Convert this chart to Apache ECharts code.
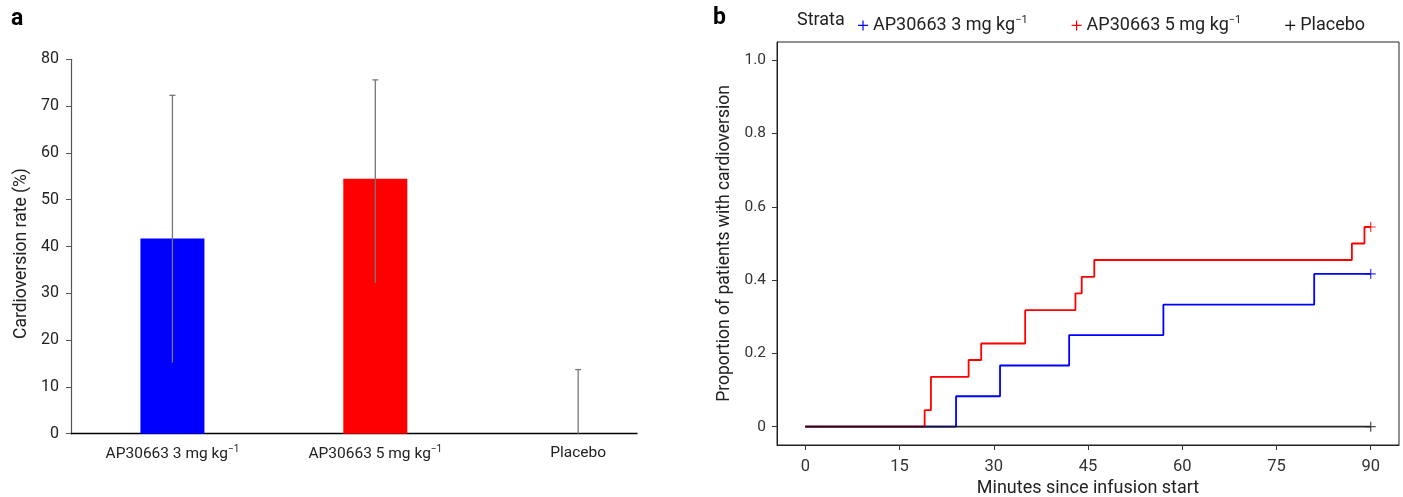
<!DOCTYPE html>
<html>
<head>
<meta charset="utf-8">
<script src="https://cdn.jsdelivr.net/npm/echarts@6/dist/echarts.min.js"></script>
<style>
html,body{margin:0;padding:0;background:#fff;}
#chart{width:1403px;height:497px;}
</style>
</head>
<body>
<div id="chart"></div>
<script>
// ---- Panel a data ----
const barCategories = ['AP30663 3 mg kg^-1', 'AP30663 5 mg kg^-1', 'Placebo'];
const barPositions = [1, 2, 3];
const rateValues = [41.7, 54.5, 0];
const ciLower = [15.2, 32.2, 0];
const ciUpper = [72.3, 75.6, 13.7];
const barColors = ['#0000ff', '#ff0000', '#000000'];

// ---- Panel b data ----
const strataNames = ['AP30663 3 mg kg^-1', 'AP30663 5 mg kg^-1', 'Placebo'];
const km3Times = [0, 24, 31, 42, 57, 81, 90];
const km3Prop  = [0, 0.083, 0.167, 0.25, 0.333, 0.417, 0.417];
const km5Times = [0, 19, 20, 26, 28, 35, 43, 44, 46, 87, 89, 90];
const km5Prop  = [0, 0.045, 0.136, 0.182, 0.227, 0.318, 0.364, 0.409, 0.455, 0.5, 0.545, 0.545];
const kmPTimes = [0, 90];
const kmPProp  = [0, 0];
const censorTimes = [90, 90, 90];
const censorProp = [0.417, 0.545, 0];
const minuteTicks = [0, 15, 30, 45, 60, 75, 90];
const propTicks = [0, 0.2, 0.4, 0.6, 0.8, 1];

const FONT = 'Roboto, "Noto Sans", sans-serif';
const PLUS = 'path://M4.4,0h1.2v10h-1.2zM0,4.4h10v1.2h-10z';

function supFmt(s) {
  const i = s.indexOf('^');
  if (i < 0) return '{t|' + s + '}';
  return '{t|' + s.slice(0, i) + '}{s|' + s.slice(i + 1).replace('-', '\u2212') + '}';
}
function richFor(size, color) {
  return {
    t: {fontSize: size, color: color, fontFamily: FONT},
    s: {fontSize: Math.round(size * 0.62), color: color, fontFamily: FONT, padding: [0, 0, size * 0.55, 0]}
  };
}
function pairs(xs, ys) { return xs.map((x, i) => [x, ys[i]]); }

const chart = echarts.init(document.getElementById('chart'), null, {renderer: 'canvas'});

const option = {
  animation: false,
  backgroundColor: '#fff',
  textStyle: {fontFamily: FONT},
  graphic: [
    {type: 'text', left: 11, top: 8, style: {text: 'a', font: 'bold 23px ' + FONT, fill: '#000'}},
    {type: 'text', left: 713, top: 7, style: {text: 'b', font: 'bold 23px ' + FONT, fill: '#000'}},
    {type: 'text', left: 797, top: 11, style: {text: 'Strata', font: '18px ' + FONT, fill: '#222'}}
  ],
  legend: {
    left: 853, top: 10,
    itemWidth: 10, itemHeight: 10, itemGap: 44,
    icon: PLUS,
    data: strataNames,
    formatter: n => supFmt(n),
    textStyle: {fontSize: 18, color: '#222', fontFamily: FONT, rich: richFor(18, '#222')}
  },
  grid: [
    {left: 71, top: 59.3, width: 566, height: 374.4, show: false, containLabel: false, outerBoundsMode: 'none'},
    {left: 777, top: 42, width: 622, height: 403, show: true, borderColor: '#222', borderWidth: 1, containLabel: false, outerBoundsMode: 'none'}
  ],
  xAxis: [
    {
      gridIndex: 0, type: 'value', min: 0.5, max: 3.29,
      axisLine: {show: true, lineStyle: {color: '#000', width: 1.3}},
      axisTick: {show: false},
      splitLine: {show: false},
      axisLabel: {
        customValues: barPositions, margin: 11,
        formatter: v => supFmt(barCategories[Math.round(v) - 1]),
        rich: richFor(15.5, '#222')
      }
    },
    {
      gridIndex: 1, type: 'value', min: -4.5, max: 94.5,
      name: 'Minutes since infusion start', nameLocation: 'middle', nameGap: 34,
      nameTextStyle: {fontSize: 18, color: '#222', fontFamily: FONT},
      axisLine: {show: true, onZero: false, lineStyle: {color: '#222', width: 1}},
      axisTick: {show: true, customValues: minuteTicks, length: 5, lineStyle: {color: '#333'}},
      splitLine: {show: false},
      axisLabel: {customValues: minuteTicks, margin: 13, fontSize: 16.5, color: '#333', fontFamily: FONT}
    }
  ],
  yAxis: [
    {
      gridIndex: 0, type: 'value', min: 0, max: 80, interval: 10,
      name: 'Cardioversion rate (%)', nameLocation: 'middle', nameGap: 40,
      nameTextStyle: {fontSize: 17.5, color: '#222', fontFamily: FONT, padding: [0, 14, 0, 0]},
      axisLine: {show: true, lineStyle: {color: '#555', width: 1.2}},
      axisTick: {show: true, length: 5, lineStyle: {color: '#555'}},
      splitLine: {show: false},
      axisLabel: {margin: 12, fontSize: 16, color: '#222', fontFamily: FONT}
    },
    {
      gridIndex: 1, type: 'value', min: -0.05, max: 1.05,
      name: 'Proportion of patients with cardioversion', nameLocation: 'middle', nameGap: 43,
      nameTextStyle: {fontSize: 17.5, color: '#222', fontFamily: FONT},
      axisLine: {show: true, onZero: false, lineStyle: {color: '#222', width: 1}},
      axisTick: {show: true, customValues: propTicks, length: 5, lineStyle: {color: '#333'}},
      splitLine: {show: false},
      axisLabel: {
        customValues: propTicks, margin: 11, fontSize: 15.5, color: '#333', fontFamily: FONT,
        formatter: v => (Math.abs(v) < 1e-9 ? '0' : v.toFixed(1))
      }
    }
  ],
  series: [
    {
      type: 'bar', xAxisIndex: 0, yAxisIndex: 0, barWidth: 64,
      data: barPositions.map((p, i) => ({value: [p, rateValues[i]], itemStyle: {color: barColors[i]}})),
      silent: true
    },
    {
      type: 'custom', xAxisIndex: 0, yAxisIndex: 0, silent: true, z: 5,
      data: barPositions.map((p, i) => [p, ciLower[i], ciUpper[i]]),
      renderItem: function (params, api) {
        const lo = api.coord([api.value(0), api.value(1)]);
        const hi = api.coord([api.value(0), api.value(2)]);
        const style = {stroke: '#777', lineWidth: 1.3};
        return {
          type: 'group',
          children: [
            {type: 'line', shape: {x1: lo[0], y1: lo[1], x2: hi[0], y2: hi[1]}, style: style},
            {type: 'line', shape: {x1: hi[0] - 3, y1: hi[1], x2: hi[0] + 3, y2: hi[1]}, style: style}
          ]
        };
      }
    },
    {
      name: strataNames[0], type: 'line', xAxisIndex: 1, yAxisIndex: 1, step: 'end',
      data: pairs(km3Times, km3Prop), showSymbol: false, symbol: 'none',
      color: '#0000ff', lineStyle: {color: '#0000ff', width: 1.8}
    },
    {
      name: strataNames[1], type: 'line', xAxisIndex: 1, yAxisIndex: 1, step: 'end',
      data: pairs(km5Times, km5Prop), showSymbol: false, symbol: 'none',
      color: '#ff0000', lineStyle: {color: '#ff0000', width: 1.8}
    },
    {
      name: strataNames[2], type: 'line', xAxisIndex: 1, yAxisIndex: 1, step: 'end',
      data: pairs(kmPTimes, kmPProp), showSymbol: false, symbol: 'none',
      color: '#111', lineStyle: {color: '#111', width: 1.8, opacity: 0.9}
    },
    {
      type: 'scatter', xAxisIndex: 1, yAxisIndex: 1, symbol: PLUS, symbolSize: 10, silent: true, z: 6,
      data: censorTimes.map((t, i) => ({value: [t, censorProp[i]], itemStyle: {color: ['#0000ff', '#ff0000', '#222'][i]}}))
    }
  ]
};
chart.setOption(option);
</script>
</body>
</html>
